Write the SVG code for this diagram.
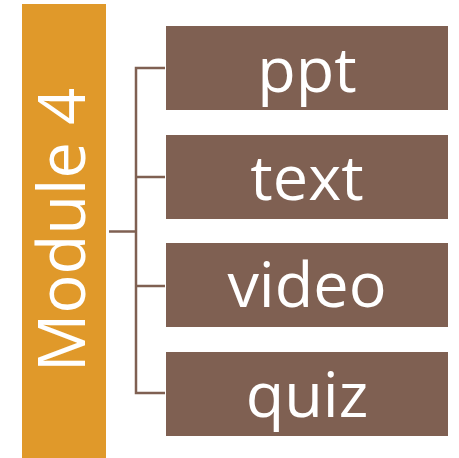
<svg xmlns="http://www.w3.org/2000/svg" width="459" height="458" viewBox="0 0 459 458">
<style>
.box{fill:#7F6052;}
.lbl{font-family:"Open Sans","Noto Sans",sans-serif;font-size:63px;fill:#FFFFFF;text-anchor:middle;}
.conn{fill:none;stroke:#7F6052;stroke-width:2.5;}
</style>
<rect width="459" height="458" fill="#FFFFFF"/>
<g id="module4">
<rect x="22" y="4" width="84" height="454" fill="#E0992A"/>
<text class="lbl" transform="translate(85,230) rotate(-90)" x="0" y="0" font-size="65" style="font-size:65px">Module 4</text>
</g>
<g id="connectors">
<path class="conn" d="M109,231.5 H136"/>
<path class="conn" d="M165,68 H136 V393 H165"/>
<path class="conn" d="M136,177 H165"/>
<path class="conn" d="M136,286 H165"/>
</g>
<g id="ppt">
<rect class="box" x="166" y="26" width="282" height="84"/>
<text class="lbl" x="307" y="92">ppt</text>
</g>
<g id="text">
<rect class="box" x="166" y="135" width="282" height="84"/>
<text class="lbl" x="307" y="200">text</text>
</g>
<g id="video">
<rect class="box" x="166" y="243" width="282" height="84"/>
<text class="lbl" x="307" y="307">video</text>
</g>
<g id="quiz">
<rect class="box" x="166" y="352" width="282" height="84"/>
<text class="lbl" x="307" y="417">quiz</text>
</g>
</svg>
